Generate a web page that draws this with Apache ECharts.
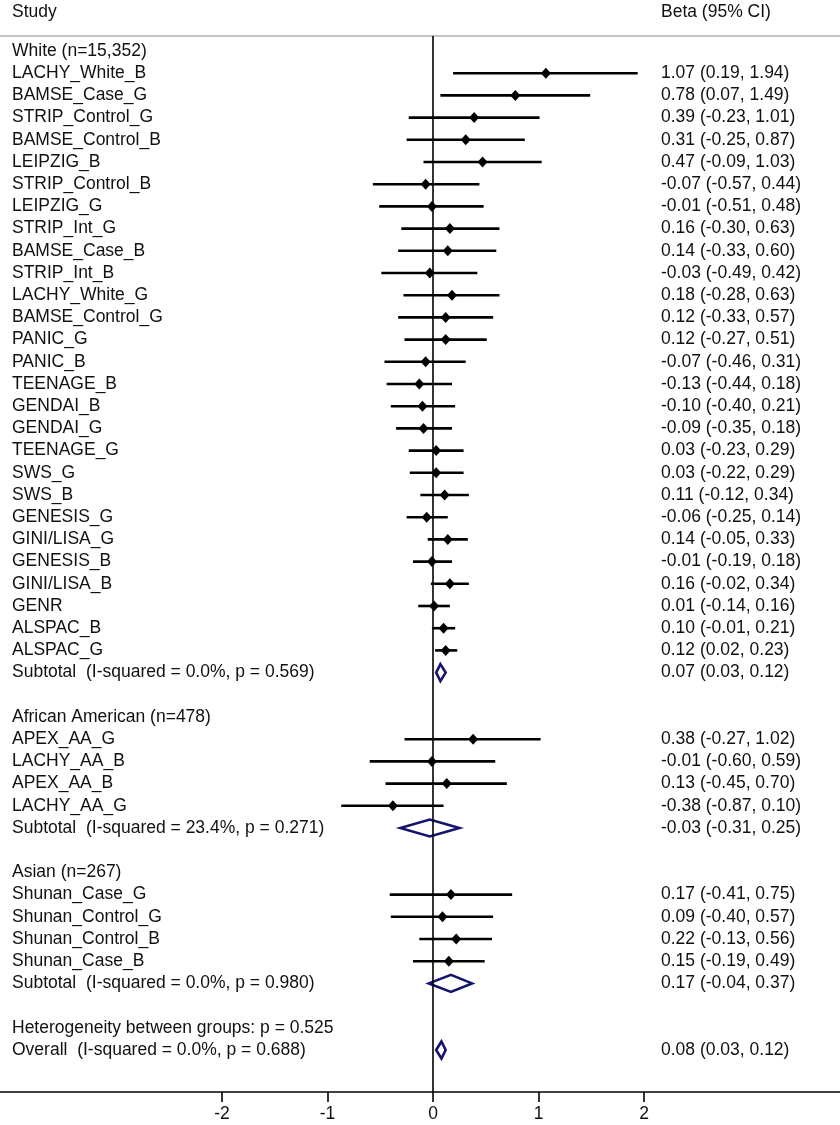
<!DOCTYPE html>
<html>
<head>
<meta charset="utf-8">
<script src="https://cdn.jsdelivr.net/npm/echarts@6/dist/echarts.min.js"></script>
<style>html,body{margin:0;padding:0;background:#fff;}#c{width:840px;height:1125px;}</style>
</head>
<body>
<div id="c"></div>
<script>
// ---------------- data ----------------
const whiteHeader = 'White (n=15,352)';
const whiteStudies = ['LACHY_White_B','BAMSE_Case_G','STRIP_Control_G','BAMSE_Control_B','LEIPZIG_B','STRIP_Control_B','LEIPZIG_G','STRIP_Int_G','BAMSE_Case_B','STRIP_Int_B','LACHY_White_G','BAMSE_Control_G','PANIC_G','PANIC_B','TEENAGE_B','GENDAI_B','GENDAI_G','TEENAGE_G','SWS_G','SWS_B','GENESIS_G','GINI/LISA_G','GENESIS_B','GINI/LISA_B','GENR','ALSPAC_B','ALSPAC_G'];
const whiteEst = [1.07,0.78,0.39,0.31,0.47,-0.07,-0.01,0.16,0.14,-0.03,0.18,0.12,0.12,-0.07,-0.13,-0.10,-0.09,0.03,0.03,0.11,-0.06,0.14,-0.01,0.16,0.01,0.10,0.12];
const whiteLo  = [0.19,0.07,-0.23,-0.25,-0.09,-0.57,-0.51,-0.30,-0.33,-0.49,-0.28,-0.33,-0.27,-0.46,-0.44,-0.40,-0.35,-0.23,-0.22,-0.12,-0.25,-0.05,-0.19,-0.02,-0.14,-0.01,0.02];
const whiteHi  = [1.94,1.49,1.01,0.87,1.03,0.44,0.48,0.63,0.60,0.42,0.63,0.57,0.51,0.31,0.18,0.21,0.18,0.29,0.29,0.34,0.14,0.33,0.18,0.34,0.16,0.21,0.23];
const whiteSub = {label:'Subtotal  (I-squared = 0.0%, p = 0.569)', est:0.07, lo:0.03, hi:0.12};

const aaHeader = 'African American (n=478)';
const aaStudies = ['APEX_AA_G','LACHY_AA_B','APEX_AA_B','LACHY_AA_G'];
const aaEst = [0.38,-0.01,0.13,-0.38];
const aaLo  = [-0.27,-0.60,-0.45,-0.87];
const aaHi  = [1.02,0.59,0.70,0.10];
const aaSub = {label:'Subtotal  (I-squared = 23.4%, p = 0.271)', est:-0.03, lo:-0.31, hi:0.25};

const asHeader = 'Asian (n=267)';
const asStudies = ['Shunan_Case_G','Shunan_Control_G','Shunan_Control_B','Shunan_Case_B'];
const asEst = [0.17,0.09,0.22,0.15];
const asLo  = [-0.41,-0.40,-0.13,-0.19];
const asHi  = [0.75,0.57,0.56,0.49];
const asSub = {label:'Subtotal  (I-squared = 0.0%, p = 0.980)', est:0.17, lo:-0.04, hi:0.37};

const hetLabel = 'Heterogeneity between groups: p = 0.525';
const overall = {label:'Overall  (I-squared = 0.0%, p = 0.688)', est:0.08, lo:0.03, hi:0.12};

const xTicks = [-2,-1,0,1,2];
const headStudy = 'Study';
const headBeta = 'Beta (95% CI)';

// ---------------- build rows ----------------
const fmt = v => v.toFixed(2);
const ciText = (e,l,h) => fmt(e) + ' (' + fmt(l) + ', ' + fmt(h) + ')';
const textRows = [];   // [row, left label, right text]
const studyRows = [];  // [lo, hi, est, row]
const poolRows = [];   // [lo, hi, est, row]
let r = 0;
function addGroup(header, names, est, lo, hi, sub) {
  textRows.push([r, header, '']); r++;
  names.forEach((n,i) => {
    textRows.push([r, n, ciText(est[i],lo[i],hi[i])]);
    studyRows.push([lo[i], hi[i], est[i], r]);
    r++;
  });
  textRows.push([r, sub.label, ciText(sub.est,sub.lo,sub.hi)]);
  poolRows.push([sub.lo, sub.hi, sub.est, r]);
  r += 2;
}
addGroup(whiteHeader, whiteStudies, whiteEst, whiteLo, whiteHi, whiteSub);
addGroup(aaHeader, aaStudies, aaEst, aaLo, aaHi, aaSub);
addGroup(asHeader, asStudies, asEst, asLo, asHi, asSub);
textRows.push([r, hetLabel, '']); r++;
textRows.push([r, overall.label, ciText(overall.est, overall.lo, overall.hi)]);
poolRows.push([overall.lo, overall.hi, overall.est, r]);

// ---------------- layout ----------------
const W = 840, H = 1125;
const gridTop = 36, gridBottomY = 1092;
const row0Y = 51, rowStep = 22.2;
const zeroX = 433, unitPx = 105.5;
const xMin = -zeroX / unitPx, xMax = (W - zeroX) / unitPx;
const yMin = (gridTop - row0Y) / rowStep, yMax = (gridBottomY - row0Y) / rowStep;
const FONT = 'Liberation Sans, Arial, Helvetica, sans-serif';
const FS = 17.5;
const TXT = '#111';
const LEFT_X = 12, RIGHT_X = 661;

const chart = echarts.init(document.getElementById('c'), null, {renderer:'canvas'});
chart.setOption({
  animation: false,
  backgroundColor: '#fff',
  grid: {left: 0, right: 0, top: gridTop, bottom: H - gridBottomY, containLabel: false},
  graphic: [
    {type:'text', left: LEFT_X, top: 3, style:{text: headStudy, font: FS + 'px ' + FONT, fill: TXT}},
    {type:'text', left: RIGHT_X, top: 3, style:{text: headBeta, font: FS + 'px ' + FONT, fill: TXT}}
  ],
  xAxis: [{
    type: 'value', min: xMin, max: xMax, position: 'bottom',
    splitLine: {show: false},
    axisLine: {show: true, onZero: false, lineStyle: {color: '#000', width: 1.6}},
    axisTick: {show: true, length: 10, lineStyle: {color: '#000', width: 1.6}, customValues: xTicks},
    axisLabel: {show: true, margin: 13, color: TXT, fontFamily: FONT, fontSize: FS, customValues: xTicks,
      formatter: v => String(v)}
  }, {
    type: 'value', min: xMin, max: xMax, position: 'top',
    splitLine: {show: false},
    axisLine: {show: true, onZero: false, lineStyle: {color: '#c4c4c4', width: 2}},
    axisTick: {show: false}, axisLabel: {show: false}
  }],
  yAxis: {type: 'value', inverse: true, min: yMin, max: yMax, show: false},
  series: [
    {
      type: 'custom', name: 'studies', data: studyRows, clip: false,
      encode: {x: [0,1,2], y: 3},
      renderItem: function (params, api) {
        const a = api.coord([api.value(0), api.value(3)]);
        const b = api.coord([api.value(1), api.value(3)]);
        const e = api.coord([api.value(2), api.value(3)]);
        return {type: 'group', children: [
          {type: 'line', shape: {x1: a[0], y1: a[1], x2: b[0], y2: b[1]}, style: {stroke: '#000', lineWidth: 2.6}},
          {type: 'polygon', shape: {points: [[e[0]-5, e[1]], [e[0], e[1]-5.5], [e[0]+5, e[1]], [e[0], e[1]+5.5]]}, style: {fill: '#000'}}
        ]};
      },
      markLine: {
        silent: true, symbol: ['none','none'], label: {show: false},
        lineStyle: {color: '#000', width: 1.6, type: 'solid'},
        data: [{xAxis: 0}]
      }
    },
    {
      type: 'custom', name: 'pooled', data: poolRows, clip: false,
      encode: {x: [0,1,2], y: 3},
      renderItem: function (params, api) {
        const a = api.coord([api.value(0), api.value(3)]);
        const b = api.coord([api.value(1), api.value(3)]);
        const e = api.coord([api.value(2), api.value(3)]);
        return {type: 'polygon', shape: {points: [[a[0], a[1]], [e[0], e[1]-8.5], [b[0], b[1]], [e[0], e[1]+8.5]]},
          style: {fill: 'none', stroke: '#14146e', lineWidth: 2.6, lineJoin: 'miter'}};
      }
    },
    {
      type: 'custom', name: 'text', data: textRows.map(t => [0, t[0]]), clip: false,
      encode: {x: 0, y: 1},
      renderItem: function (params, api) {
        const p = api.coord([0, api.value(1)]);
        const t = textRows[params.dataIndex];
        return {type: 'group', children: [
          {type: 'text', x: LEFT_X, y: p[1], style: {text: t[1], font: FS + 'px ' + FONT, fill: TXT, textAlign: 'left', textVerticalAlign: 'middle'}},
          {type: 'text', x: RIGHT_X, y: p[1], style: {text: t[2], font: FS + 'px ' + FONT, fill: TXT, textAlign: 'left', textVerticalAlign: 'middle'}}
        ]};
      }
    }
  ]
});
</script>
</body>
</html>
